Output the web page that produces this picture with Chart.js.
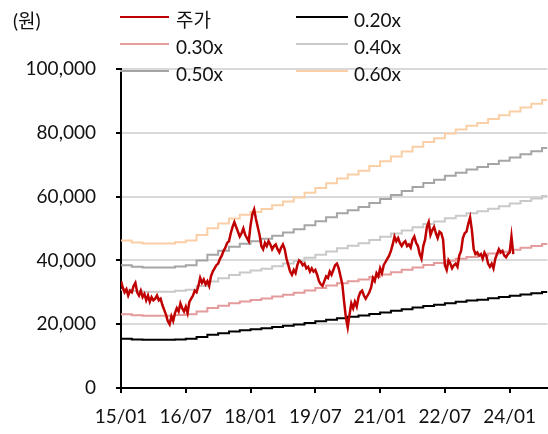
<!DOCTYPE html>
<html>
<head>
<meta charset="utf-8">
<script src="https://cdn.jsdelivr.net/npm/chart.js@4.4.1/dist/chart.umd.min.js"></script>
<style>
  html, body { margin: 0; padding: 0; background: #fff; }
  #wrap { width: 548px; height: 434px; position: relative; }
</style>
</head>
<body>
<div id="wrap"><canvas id="pbrChart"></canvas></div>
<script>
// x axis = months since 2015/01
var xTickLabels = ["15/01", "16/07", "18/01", "19/07", "21/01", "22/07", "24/01"];
var yTicks = [0, 20000, 40000, 60000, 80000, 100000];

// share price (won), two readings a month, 2015/01 ~ 2024/02
var price = [
	33500, 31500, 30000, 31000, 29000, 30500, 30000, 32000, 33000, 30000,
	29000, 30500, 28500, 29500, 27500, 29000, 27000, 28500, 27500, 28000,
	29000, 27500, 28000, 26000, 24500, 23000, 21000, 20000, 22500, 21000,
	23500, 25000, 24000, 26500, 25000, 24000, 25500, 23500, 27000, 28000,
	29000, 30500, 30000, 32000, 34500, 33000, 34000, 32500, 33500, 32000,
	35000, 36500, 37500, 38500, 39000, 40500, 41500, 43000, 44000, 45500,
	46000, 48500, 50500, 52000, 50500, 49000, 47500, 48500, 50000, 48000,
	47000, 46000, 51000, 54500, 56000, 53000, 50500, 48000, 44500, 43500,
	45500, 44500, 46000, 45000, 43500, 44500, 45000, 43500, 42500, 44000,
	45000, 43500, 40500, 38500, 36500, 35500, 37000, 36000, 38500, 40000,
	39500, 38500, 39000, 37500, 38000, 36500, 37500, 36500, 37000, 35500,
	33500, 32500, 32000, 33500, 35000, 34500, 36500, 35500, 37000, 38500,
	39000, 37500, 35000, 32500, 27000, 22000, 19000, 23000, 26500, 25000,
	27000, 25500, 28500, 30000, 30500, 29000, 28000, 29000, 30000, 31500,
	34500, 33500, 36000, 35000, 37500, 36000, 38500, 39500, 40500, 41500,
	43000, 45000, 47500, 46000, 47000, 45500, 44500, 45500, 46000, 44500,
	45000, 44000, 46500, 47500, 45500, 44500, 42000, 40500, 44500, 46500,
	50500, 52000, 48000, 49500, 50500, 48500, 47000, 49000, 48500, 46500,
	38500, 37000, 40000, 39000, 37500, 38500, 39000, 38000, 41500, 43000,
	47000, 48500, 49000, 51500, 53500, 49500, 43500, 42000, 42500, 41500,
	42000, 40500, 42500, 41500, 39000, 38000, 39000, 37500, 40500, 42000,
	43500, 42500, 43000, 41500, 41000, 42000, 42500, 47500, 42000
];

// BPS (won), quarterly, months 0, 3, 6 ... 117 and end of axis
var bpsMonths = [
	0, 3, 6, 9, 12, 15, 18, 21, 24, 27, 30, 33, 36, 39, 42, 45, 48, 51, 54, 57,
	60, 63, 66, 69, 72, 75, 78, 81, 84, 87, 90, 93, 96, 99, 102, 105, 108, 111, 114, 117, 118.5
];
var bps = [
	77000, 76000, 75500, 75500, 75500, 76200, 77000, 80000, 83500, 86000,
	88500, 90500, 92000, 93500, 95500, 97500, 99500, 102000, 104500, 107000,
	109500, 111500, 113500, 116000, 118500, 121000, 123500, 126000, 128500, 130500,
	133000, 135000, 137000, 138500, 140500, 142500, 144500, 146500, 148500, 150500, 150500
];

var multiples = [0.2, 0.3, 0.4, 0.5, 0.6];
var bandNames = ["0.20x", "0.30x", "0.40x", "0.50x", "0.60x"];
var bandColors = ["#000000", "#e39b9b", "#c9c9c9", "#a5a5a5", "#fbcfa6"];

var FONT = "Lato, 'Noto Sans CJK KR', sans-serif";

var datasets = [{
	label: "주가",
	data: price.map(function(v, i) { return { x: i / 2, y: v }; }),
	borderColor: "#c00000",
	borderWidth: 2.5,
	pointRadius: 0,
	tension: 0
}];
multiples.forEach(function(m, k) {
	datasets.push({
		label: bandNames[k],
		data: bps.map(function(b, i) { return { x: bpsMonths[i], y: b * m }; }),
		borderColor: bandColors[k],
		borderWidth: 2,
		pointRadius: 0,
		stepped: true
	});
});

// legend in two columns + unit label
var legendPlugin = {
	id: "legendGrid",
	afterDraw: function(chart) {
		var c = chart.ctx;
		c.save();
		c.font = "19px " + FONT;
		c.fillStyle = "#111";
		c.textBaseline = "middle";
		c.fillText("(원)", 13, 22);
		var colLine = [[120, 169], [296, 348]];
		var colText = [176, 354];
		var rowY = [17, 44, 71];
		chart.data.datasets.forEach(function(ds, i) {
			var col = i % 2, row = Math.floor(i / 2);
			c.strokeStyle = ds.borderColor;
			c.lineWidth = 2;
			c.beginPath();
			c.moveTo(colLine[col][0], rowY[row]);
			c.lineTo(colLine[col][1], rowY[row]);
			c.stroke();
			c.fillStyle = "#111";
			c.fillText(ds.label, colText[col], rowY[row] + 4);
		});
		c.restore();
	}
};

var ctx = document.getElementById("pbrChart").getContext("2d");
var chart = new Chart(ctx, {
	type: "line",
	data: { datasets: datasets },
	options: {
		responsive: true,
		maintainAspectRatio: false,
		animation: false,
		layout: { padding: { top: 69, left: 0, right: 0, bottom: 0 } },
		plugins: {
			legend: { display: false },
			tooltip: { enabled: false }
		},
		scales: {
			x: {
				type: "linear",
				min: 0,
				max: 118.5,
				afterFit: function(s) { s.height = 46; },
				border: { color: "#000", width: 2 },
				grid: { drawOnChartArea: false, tickColor: "#000", tickLength: 5, lineWidth: 2 },
				ticks: {
					stepSize: 18,
					includeBounds: false,
					maxRotation: 0,
					autoSkip: false,
					padding: 12,
					color: "#111",
					font: { family: FONT, size: 19 },
					callback: function(v) {
						var idx = v / 18;
						return xTickLabels[idx] !== undefined && Number.isInteger(idx) ? xTickLabels[idx] : "";
					}
				}
			},
			y: {
				min: 0,
				max: 100000,
				afterFit: function(s) { s.width = 121; },
				afterBuildTicks: function(s) { s.ticks = yTicks.map(function(v) { return { value: v }; }); },
				border: { color: "#000", width: 2 },
				grid: {
					color: function(c) { return c.tick && c.tick.value === 0 ? "rgba(0,0,0,0)" : "#d9d9d9"; },
					lineWidth: 2,
					tickColor: "#000",
					tickLength: 5
				},
				ticks: {
					padding: 20,
					color: "#111",
					font: { family: FONT, size: 19 },
					callback: function(v) { return v.toLocaleString("en-US"); }
				}
			}
		}
	},
	plugins: [legendPlugin]
});
</script>
</body>
</html>
